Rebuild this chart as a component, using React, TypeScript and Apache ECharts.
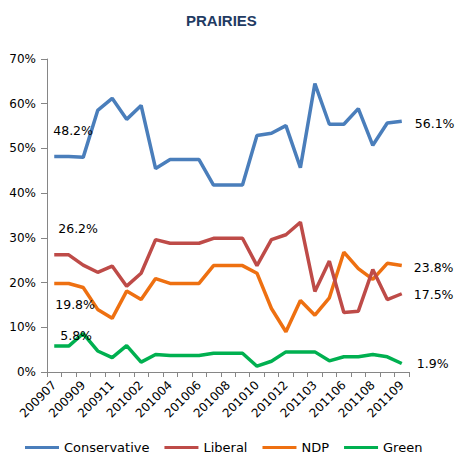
import React, { useEffect, useRef } from "react";
import * as echarts from "echarts";

const categories = [
  "200907", "200908", "200909", "200910", "200911", "200912", "201002",
  "201003", "201004", "201005", "201006", "201007", "201008", "201009",
  "201010", "201011", "201012", "201102", "201103", "201105", "201106",
  "201107", "201108", "201108b", "201109",
];

const conservative = [48.2, 48.2, 48.0, 58.5, 61.2, 56.5, 59.6, 45.5, 47.5, 47.5, 47.5, 41.8, 41.8, 41.8, 52.9, 53.4, 55.1, 45.7, 64.5, 55.4, 55.4, 58.9, 50.7, 55.7, 56.1];
const liberal = [26.2, 26.2, 23.9, 22.3, 23.7, 19.2, 22.1, 29.6, 28.8, 28.8, 28.8, 29.9, 29.9, 29.9, 23.8, 29.6, 30.7, 33.5, 18.0, 24.8, 13.3, 13.6, 22.9, 16.2, 17.5];
const ndp = [19.8, 19.8, 18.9, 14.0, 12.0, 18.1, 16.2, 20.9, 19.8, 19.8, 19.8, 23.8, 23.8, 23.8, 22.1, 14.2, 9.0, 16.0, 12.7, 16.6, 26.8, 23.1, 20.7, 24.3, 23.8];
const green = [5.8, 5.8, 8.6, 4.7, 3.2, 5.9, 2.2, 3.9, 3.7, 3.7, 3.7, 4.2, 4.2, 4.2, 1.3, 2.4, 4.5, 4.5, 4.5, 2.5, 3.4, 3.4, 3.9, 3.4, 1.9];

const seriesNames = ["Conservative", "Liberal", "NDP", "Green"];
const seriesColors = ["#4A7EBB", "#BE4B48", "#EE7011", "#00B050"];

const FONT = "DejaVu Sans";

function withEndLabels(values: number[], first: [number, number], last: [number, number]) {
  return values.map((v, i) => {
    if (i === 0 || i === values.length - 1) {
      const off = i === 0 ? first : last;
      return {
        value: v,
        label: {
          show: true,
          position: "inside",
          align: "left",
          verticalAlign: "middle",
          offset: off,
          formatter: "{c}%",
          color: "#000",
          fontSize: 12.5,
          fontFamily: FONT,
        },
      };
    }
    return v;
  });
}

export default function App() {
  const ref = useRef<HTMLDivElement>(null);
  useEffect(() => {
    if (!ref.current) return;
    const chart = echarts.init(ref.current, null, { renderer: "svg" });
    const offsets: [[number, number], [number, number]][] = [
      [[-1, -26], [13, 2]],
      [[4, -26], [12, 1]],
      [[1, 21], [12, 2]],
      [[6, -11], [15, 0]],
    ];
    const all = [conservative, liberal, ndp, green];
    chart.setOption({
      animation: false,
      backgroundColor: "#fff",
      title: {
        text: "PRAIRIES",
        left: 186,
        top: 13,
        padding: 0,
        textStyle: {
          color: "#1F3B63",
          fontSize: 15,
          fontWeight: "bold",
          fontFamily: "Liberation Sans",
        },
      },
      legend: {
        data: seriesNames.map((name, k) => ({
          name,
          itemStyle: { color: seriesColors[k], opacity: 1 },
        })),
        left: 20,
        top: 436,
        icon: "rect",
        itemWidth: 34,
        itemHeight: 3,
        itemGap: 15,
        textStyle: { color: "#000", fontSize: 13, fontFamily: FONT },
      },
      grid: { left: 47, right: 49, top: 59, bottom: 84 },
      xAxis: {
        type: "category",
        data: categories,
        boundaryGap: true,
        axisLine: { lineStyle: { color: "#868686", width: 1 } },
        axisTick: { show: true, interval: 0, length: 5, lineStyle: { color: "#868686" } },
        axisLabel: {
          interval: 1,
          rotate: 45,
          color: "#000",
          fontSize: 12,
          fontFamily: FONT,
          margin: 11,
        },
        splitLine: { show: false },
      },
      yAxis: {
        type: "value",
        min: 0,
        max: 70,
        interval: 10,
        axisLine: { show: true, lineStyle: { color: "#868686", width: 1 } },
        axisTick: { show: true, length: 6, lineStyle: { color: "#868686" } },
        axisLabel: {
          formatter: "{value}%",
          color: "#000",
          fontSize: 12,
          fontFamily: FONT,
          margin: 11,
        },
        splitLine: { show: false },
      },
      series: seriesNames.map((name, k) => ({
        name,
        type: "line",
        data: withEndLabels(all[k], offsets[k][0], offsets[k][1]),
        symbol: "circle",
        symbolSize: 0.1,
        showSymbol: true,
        color: seriesColors[k],
        itemStyle: { color: "rgba(0,0,0,0)", borderWidth: 0 },
        lineStyle: { color: seriesColors[k], width: 3.5 },
        emphasis: { disabled: true },
        z: 10 - k,
      })),
    });
    return () => chart.dispose();
  }, []);
  return (
    <div
      ref={ref}
      style={{ position: "absolute", left: 0, top: 0, width: 458, height: 456 }}
    />
  );
}
